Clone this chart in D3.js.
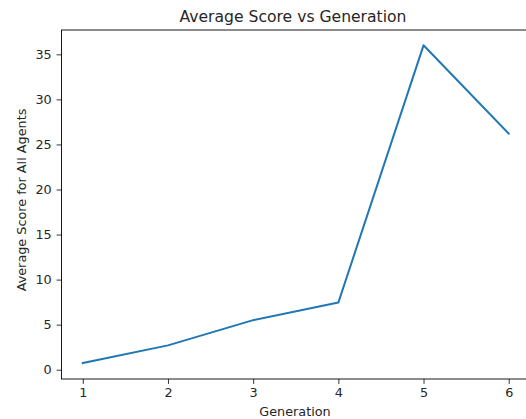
<!DOCTYPE html>
<html>
<head>
<meta charset="utf-8">
<script src="https://cdn.jsdelivr.net/npm/d3@7"></script>
<style>
	body { margin: 0; background: #fff; }
	text { font-family: "DejaVu Sans", sans-serif; fill: #262626; }
</style>
</head>
<body>
<div class="chart"></div>
<script>
var generations = [1, 2, 3, 4, 5, 6];
var avgScores = [0.75, 2.7, 5.5, 7.45, 36.0, 26.2];
var xTicks = [1, 2, 3, 4, 5, 6];
var yTicks = [0, 5, 10, 15, 20, 25, 30, 35];

var width = 526, height = 419;
var margin = {top: 30, right: -4, bottom: 40, left: 61.5};

var svg = d3.select(".chart").append("svg")
	.attr("width", width)
	.attr("height", height);

var x = d3.scaleLinear()
	.domain([0.75, 6.25])
	.range([margin.left, width - margin.right]);

var y = d3.scaleLinear()
	.domain([-1.03, 37.7])
	.range([height - margin.bottom, margin.top]);

// frame
svg.append("rect")
	.attr("x", margin.left)
	.attr("y", margin.top)
	.attr("width", width - margin.right - margin.left)
	.attr("height", height - margin.bottom - margin.top)
	.attr("fill", "none")
	.attr("stroke", "#000")
	.attr("stroke-width", 0.9);

var xAxis = svg.append("g")
	.attr("transform", "translate(0," + (height - margin.bottom) + ")")
	.call(d3.axisBottom(x).tickValues(xTicks).tickSize(4.9).tickPadding(4.5).tickFormat(d3.format("d")));

var yAxis = svg.append("g")
	.attr("transform", "translate(" + margin.left + ",0)")
	.call(d3.axisLeft(y).tickValues(yTicks).tickSize(4.9).tickPadding(4.9).tickFormat(d3.format("d")));

[xAxis, yAxis].forEach(function(g) {
	g.select(".domain").remove();
	g.selectAll(".tick line").attr("stroke", "#000").attr("stroke-width", 0.8);
	g.selectAll(".tick text")
		.style("font-size", "12.8px")
		.style("font-family", "DejaVu Sans")
		.attr("fill", "#262626");
});

var line = d3.line()
	.x(function(d, i) { return x(generations[i]); })
	.y(function(d) { return y(d); });

svg.append("path")
	.datum(avgScores)
	.attr("d", line)
	.attr("fill", "none")
	.attr("stroke", "#1f77b4")
	.attr("stroke-width", 2)
	.attr("stroke-linejoin", "round")
	.attr("stroke-linecap", "square");

svg.append("text")
	.attr("x", 293)
	.attr("y", 22)
	.attr("text-anchor", "middle")
	.style("font-size", "15.6px")
	.text("Average Score vs Generation");

svg.append("text")
	.attr("x", 295)
	.attr("y", 415.5)
	.attr("text-anchor", "middle")
	.style("font-size", "12.8px")
	.text("Generation");

svg.append("text")
	.attr("transform", "translate(26,200)rotate(-90)")
	.attr("text-anchor", "middle")
	.style("font-size", "12.8px")
	.text("Average Score for All Agents");
</script>
</body>
</html>
